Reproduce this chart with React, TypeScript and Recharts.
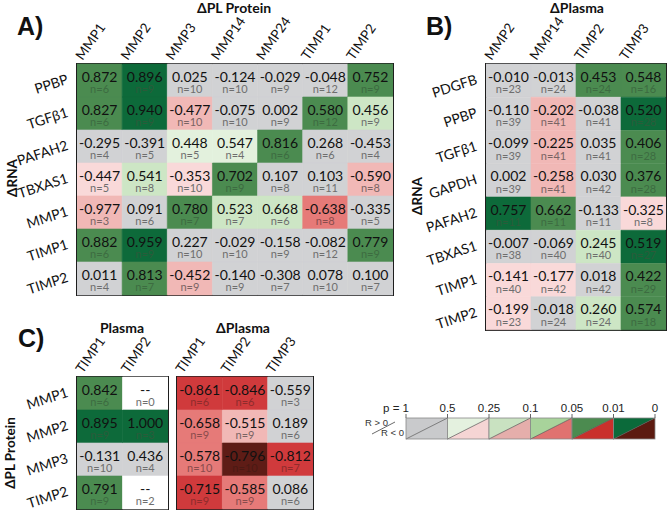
import React from 'react';
import { BarChart, Bar, XAxis, YAxis, Cell, LabelList, ReferenceArea } from 'recharts';

// ---- panel A: ΔRNA vs ΔPL Protein ----
const aRows = ['PPBP', 'TGFβ1', 'PAFAH2', 'TBXAS1', 'MMP1', 'TIMP1', 'TIMP2'];
const aCols = ['MMP1', 'MMP2', 'MMP3', 'MMP14', 'MMP24', 'TIMP1', 'TIMP2'];
const aR = [
  [0.872, 0.896, 0.025, -0.124, -0.029, -0.048, 0.752],
  [0.827, 0.94, -0.477, -0.075, 0.002, 0.58, 0.456],
  [-0.295, -0.391, 0.448, 0.547, 0.816, 0.268, -0.453],
  [-0.447, 0.541, -0.353, 0.702, 0.107, 0.103, -0.59],
  [-0.977, 0.091, 0.78, 0.523, 0.668, -0.638, -0.335],
  [0.882, 0.959, 0.227, -0.029, -0.158, -0.082, 0.779],
  [0.011, 0.813, -0.452, -0.14, -0.308, 0.078, 0.1],
];
const aN = [
  [6, 9, 10, 10, 9, 12, 9],
  [6, 9, 10, 10, 9, 12, 9],
  [4, 5, 5, 4, 6, 6, 4],
  [5, 8, 10, 9, 8, 11, 8],
  [3, 6, 7, 7, 6, 8, 5],
  [6, 9, 10, 10, 9, 12, 9],
  [4, 7, 9, 9, 7, 10, 7],
];
// p-value band: 0 = p>0.5, 1 = <0.5, 2 = <0.25, 3 = <0.1, 4 = <0.05, 5 = <0.01
const aP = [
  [4, 5, 0, 0, 0, 0, 4],
  [4, 5, 2, 0, 0, 4, 2],
  [0, 0, 1, 1, 4, 0, 0],
  [1, 2, 1, 4, 0, 0, 2],
  [2, 0, 4, 2, 2, 3, 0],
  [4, 5, 0, 0, 0, 0, 4],
  [0, 4, 2, 0, 0, 0, 0],
];

// ---- panel B: ΔRNA vs ΔPlasma ----
const bRows = ['PDGFB', 'PPBP', 'TGFβ1', 'GAPDH', 'PAFAH2', 'TBXAS1', 'TIMP1', 'TIMP2'];
const bCols = ['MMP2', 'MMP14', 'TIMP2', 'TIMP3'];
const bR = [
  [-0.01, -0.013, 0.453, 0.548],
  [-0.11, -0.202, -0.038, 0.52],
  [-0.099, -0.225, 0.035, 0.406],
  [0.002, -0.258, 0.03, 0.376],
  [0.757, 0.662, -0.133, -0.325],
  [-0.007, -0.069, 0.245, 0.519],
  [-0.141, -0.177, 0.018, 0.422],
  [-0.199, -0.018, 0.26, 0.574],
];
const bN = [
  [23, 24, 24, 16],
  [39, 41, 41, 28],
  [39, 41, 41, 28],
  [39, 41, 42, 28],
  [11, 11, 11, 8],
  [38, 40, 40, 27],
  [40, 42, 42, 29],
  [23, 24, 24, 18],
];
const bP = [
  [0, 0, 4, 4],
  [0, 2, 0, 5],
  [0, 2, 0, 4],
  [0, 2, 0, 4],
  [5, 4, 0, 1],
  [0, 0, 2, 5],
  [1, 1, 0, 4],
  [1, 0, 2, 4],
];

// ---- panel C: ΔPL Protein vs Plasma / ΔPlasma ----
const cRows = ['MMP1', 'MMP2', 'MMP3', 'TIMP2'];
const cPlasmaCols = ['TIMP1', 'TIMP2'];
const cPlasmaR = [
  [0.842, null],
  [0.895, 1.0],
  [-0.131, 0.436],
  [0.791, null],
];
const cPlasmaN = [
  [6, 0],
  [9, 3],
  [10, 4],
  [9, 2],
];
const cPlasmaP = [
  [4, 0],
  [5, 5],
  [0, 0],
  [4, 0],
];
const cDeltaCols = ['TIMP1', 'TIMP2', 'TIMP3'];
const cDeltaR = [
  [-0.861, -0.846, -0.559],
  [-0.658, -0.515, 0.189],
  [-0.578, -0.796, -0.812],
  [-0.715, -0.585, 0.086],
];
const cDeltaN = [
  [6, 6, 3],
  [9, 9, 6],
  [10, 10, 7],
  [9, 9, 6],
];
const cDeltaP = [
  [4, 4, 0],
  [3, 2, 0],
  [3, 5, 4],
  [4, 3, 0],
];

// ---- legend ----
const pBreaks = ['p = 1', '0.5', '0.25', '0.1', '0.05', '0.01', '0'];
const legendGreen = ['#c9cacc', '#e4f1df', '#c9e2c1', '#a8d39b', '#4c8b50', '#0b6a3a'];
const legendRed = ['#c9cacc', '#f5d5d4', '#e5aeab', '#e07270', '#c9302c', '#5c1a10'];

const GREENS = ['#d1d2d4', '#e3f1dd', '#cde6c5', '#a9d49c', '#4b8b50', '#0d6a3a'];
const REDS = ['#d1d2d4', '#f9d9d9', '#f1b8b6', '#e67a78', '#d03a3c', '#5e1c16'];
const N_GREEN = ['#6e6e6e', '#6e6e6e', '#6e6e6e', '#5c705c', '#3d6c41', '#2b5b3a'];
const N_RED = ['#6e6e6e', '#6e6e6e', '#7a6464', '#8a4c4c', '#8e2c2c', '#4a1a14'];

const FONT = "Lato, 'Open Sans', sans-serif";
const ARIAL = "'Liberation Sans', Arial, sans-serif";

function cellFill(v: number | null, p: number) {
  if (v === null) return '#ffffff';
  return v >= 0 ? GREENS[p] : REDS[p];
}

function nFill(v: number | null, p: number) {
  if (v === null) return '#6e6e6e';
  return v >= 0 ? N_GREEN[p] : N_RED[p];
}

function Heatmap(props: any) {
  const { rows, cols, vals, ns, ps, w, h, axisLeft, axisTop, mLeft, mRight, mBottom, showRows, pos } = props;
  const data = rows.map((r: string) => {
    const d: any = { row: r };
    cols.forEach((_: string, j: number) => { d['c' + j] = 1; });
    return d;
  });

  // rotation angles tuned against how this renderer draws rotated text
  const colTick = (p: any) => {
    const label = cols[Math.floor(p.payload.value)];
    const tx = p.x - 17;
    const ty = p.y - 3;
    return (
      <g transform={`translate(${tx},${ty})`}>
        <text x={0} y={0} transform="rotate(-55)" fontSize={13.5} fontFamily={FONT} fill="#111">
          {label}
        </text>
      </g>
    );
  };

  const rowTick = (p: any) => {
    const tx = p.x - 8;
    const ty = p.y + 3;
    return (
      <g transform={`translate(${tx},${ty})`}>
        <text x={0} y={0} transform="rotate(-18)" textAnchor="end" fontSize={14} fontFamily={FONT} fill="#111">
          {p.payload.value}
        </text>
      </g>
    );
  };

  return (
    <div style={{ position: 'absolute', ...pos }}>
      <BarChart
        width={w}
        height={h}
        data={data}
        layout="vertical"
        barCategoryGap={0}
        barGap={0}
        margin={{ top: 0, right: mRight, bottom: mBottom, left: mLeft }}
      >
        <XAxis
          type="number"
          orientation="top"
          domain={[0, cols.length]}
          ticks={cols.map((_: string, j: number) => j + 0.5)}
          height={axisTop}
          axisLine={false}
          tickLine={false}
          tickSize={0}
          tickMargin={0}
          interval={0}
          allowDataOverflow
          tick={colTick}
        />
        <YAxis
          type="category"
          dataKey="row"
          width={axisLeft}
          hide={!showRows}
          axisLine={false}
          tickLine={false}
          tickSize={0}
          tickMargin={0}
          interval={0}
          tick={rowTick}
        />
        {cols.map((c: string, j: number) => (
          <Bar key={c + j} dataKey={'c' + j} stackId="s" isAnimationActive={false}>
            {rows.map((r: string, i: number) => {
              const f = cellFill(vals[i][j], ps[i][j]);
              return <Cell key={r} fill={f} stroke={f} strokeWidth={0.6} />;
            })}
            <LabelList
              dataKey={'c' + j}
              content={(lp: any) => {
                const vb = lp.viewBox || lp;
                const i = lp.index;
                const v = vals[i][j];
                const cx = vb.x + vb.width / 2;
                return (
                  <g>
                    <text x={cx} y={vb.y + 17.5} textAnchor="middle" fontSize={14} fontFamily={FONT} fill="#111">
                      {v === null ? '--' : v.toFixed(3)}
                    </text>
                    <text x={cx} y={vb.y + 29} textAnchor="middle" fontSize={11} fontFamily={FONT} fill={nFill(v, ps[i][j])}>
                      {'n=' + ns[i][j]}
                    </text>
                  </g>
                );
              }}
            />
          </Bar>
        ))}
        <ReferenceArea x1={0} x2={cols.length} fill="none" stroke="#1e1e1e" strokeWidth={2} ifOverflow="visible" />
      </BarChart>
    </div>
  );
}

function Legend() {
  const data = [{ k: 'p' } as any];
  pBreaks.slice(1).forEach((_, j) => { data[0]['s' + j] = 1; });

  const tick = (p: any) => {
    const label = pBreaks[p.payload.value];
    const first = p.payload.value === 0;
    return (
      <text x={first ? p.x + 3 : p.x} y={p.y - 2} textAnchor={first ? 'end' : 'middle'} fontSize={11.5} fontFamily={ARIAL} fill="#222">
        {label}
      </text>
    );
  };

  return (
    <div style={{ position: 'absolute', left: 340, top: 380 }}>
      <BarChart width={328} height={70} data={data} layout="vertical" barCategoryGap={0} margin={{ top: 0, right: 13, bottom: 11, left: 66 }}>
        <XAxis
          type="number"
          orientation="top"
          domain={[0, 6]}
          ticks={[0, 1, 2, 3, 4, 5, 6]}
          height={38}
          axisLine={false}
          tickLine={{ stroke: '#666' }}
          tickSize={4}
          tickMargin={0}
          interval={0}
          tick={tick}
        />
        <YAxis type="category" dataKey="k" hide />
        {pBreaks.slice(1).map((b, j) => (
          <Bar
            key={b}
            dataKey={'s' + j}
            stackId="s"
            isAnimationActive={false}
            shape={(sp: any) => {
              const { x, y, width, height } = sp;
              return (
                <g>
                  <polygon points={`${x},${y} ${x + width},${y} ${x},${y + height}`} fill={legendGreen[j]} />
                  <polygon points={`${x + width},${y} ${x + width},${y + height} ${x},${y + height}`} fill={legendRed[j]} />
                  <line x1={x} y1={y + height} x2={x + width} y2={y} stroke="#555" strokeWidth={0.7} />
                  <rect x={x} y={y} width={width} height={height} fill="none" stroke="#888" strokeWidth={0.8} />
                </g>
              );
            }}
          />
        ))}
      </BarChart>
    </div>
  );
}

export default function App() {
  const bold = { fontFamily: FONT, fontWeight: 700, fill: '#111' } as any;
  const letter = { fontFamily: ARIAL, fontWeight: 700, fontSize: 25, fill: '#111' } as any;
  return (
    <div style={{ position: 'absolute', left: 0, top: 0, width: 668, height: 510, background: '#fff', overflow: 'hidden' }}>
      <Heatmap
        rows={aRows} cols={aCols} vals={aR} ns={aN} ps={aP}
        w={400} h={300} axisLeft={77} axisTop={64} mLeft={0} mRight={7} mBottom={5} showRows
        pos={{ left: 0, top: 0 }}
      />
      <Heatmap
        rows={bRows} cols={bCols} vals={bR} ns={bN} ps={bP}
        w={328} h={335} axisLeft={146} axisTop={64} mLeft={0} mRight={2} mBottom={5} showRows
        pos={{ left: 340, top: 0 }}
      />
      <Heatmap
        rows={cRows} cols={cPlasmaCols} vals={cPlasmaR} ns={cPlasmaN} ps={cPlasmaP}
        w={172} h={210} axisLeft={77} axisTop={77} mLeft={0} mRight={4} mBottom={1} showRows
        pos={{ left: 0, top: 300 }}
      />
      <Heatmap
        rows={cRows} cols={cDeltaCols} vals={cDeltaR} ns={cDeltaN} ps={cDeltaP}
        w={150} h={210} axisLeft={0} axisTop={77} mLeft={7} mRight={7} mBottom={1} showRows={false}
        pos={{ left: 170, top: 300 }}
      />
      <Legend />
      <svg width={668} height={510} style={{ position: 'absolute', left: 0, top: 0, pointerEvents: 'none' }}>
        <text x={17} y={35} {...letter}>A)</text>
        <text x={426} y={35} {...letter}>B)</text>
        <text x={18} y={347} {...letter}>C)</text>
        <text x={234} y={13} textAnchor="middle" fontSize={14} {...bold}>ΔPL Protein</text>
        <text x={577} y={13} textAnchor="middle" fontSize={14} {...bold}>ΔPlasma</text>
        <text x={122} y={333} textAnchor="middle" fontSize={14} {...bold}>Plasma</text>
        <text x={243} y={333} textAnchor="middle" fontSize={14} {...bold}>ΔPlasma</text>
        <text x={12} y={178} transform="rotate(-90 12 178)" textAnchor="middle" dominantBaseline="central" fontSize={13.5} {...bold}>ΔRNA</text>
        <text x={417} y={196} transform="rotate(-90 417 196)" textAnchor="middle" dominantBaseline="central" fontSize={13.5} {...bold}>ΔRNA</text>
        <text x={10} y={453} transform="rotate(-90 10 453)" textAnchor="middle" dominantBaseline="central" fontSize={13.5} {...bold}>ΔPL Protein</text>
        <text x={365} y={426} fontSize={9.5} fontFamily={ARIAL} fill="#333">R &gt; 0</text>
        <text x={381} y={436} fontSize={9.5} fontFamily={ARIAL} fill="#333">R &lt; 0</text>
        <line x1={372} y1={434} x2={395} y2={422} stroke="#444" strokeWidth={0.8} />
      </svg>
    </div>
  );
}
